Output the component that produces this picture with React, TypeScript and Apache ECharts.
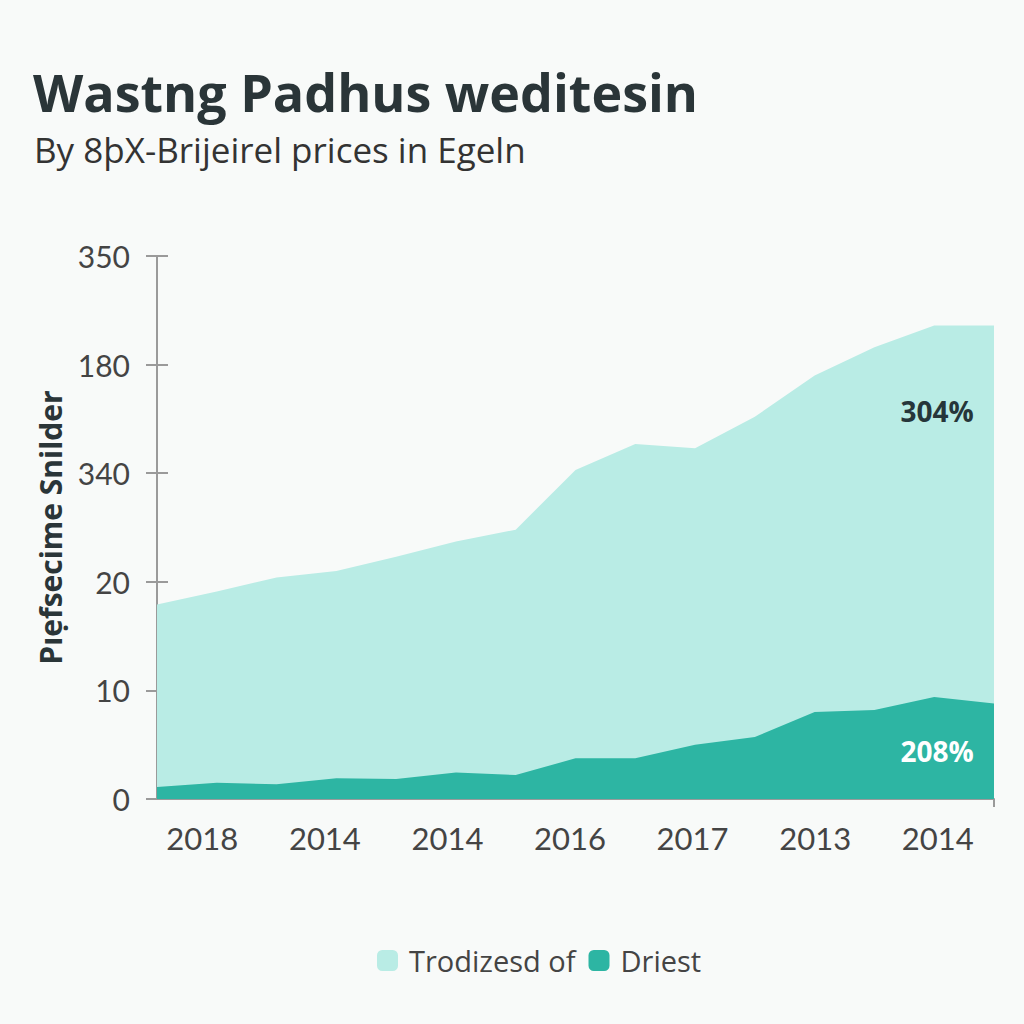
import React, { useEffect, useRef } from "react";
import * as echarts from "echarts";

const title = "Wastng Padhus weditesin";
const subtitle = "By 8þX-Brijeirel prices in Egeln";
const yAxisName = "Pıẹfsecime Snilder";
const yTickLabels = ["0", "10", "20", "340", "180", "350"];
const xTickLabels = ["2018", "2014", "2014", "2016", "2017", "2013", "2014"];
const points = ["p0", "p1", "p2", "p3", "p4", "p5", "p6", "p7", "p8", "p9", "p10", "p11", "p12", "p13", "p14"];
const lightName = "Trodizesd of";
const darkName = "Driest";
const lightValues = [17.9, 19.1, 20.4, 21.0, 22.3, 23.7, 24.8, 30.3, 32.7, 32.3, 35.2, 39.0, 41.6, 43.6, 43.6];
const darkValues = [1.1, 1.5, 1.35, 1.9, 1.85, 2.45, 2.2, 3.75, 3.75, 5.0, 5.7, 8.0, 8.2, 9.4, 8.8];
const annotations = [
  { text: "304%", index: 13, value: 35.7, color: "#26363a" },
  { text: "208%", index: 13, value: 4.4, color: "#ffffff" },
];

export default function App() {
  const ref = useRef<HTMLDivElement>(null);
  useEffect(() => {
    const chart = echarts.init(ref.current!, null, { renderer: "svg" });
    const font = "'Open Sans', 'Noto Sans', sans-serif";
    const axisFont = "Lato, 'Open Sans', sans-serif";
    chart.setOption({
      animation: false,
      backgroundColor: "#f8faf9",
      textStyle: { fontFamily: font },
      title: [
        {
          text: title,
          left: 28,
          top: 60,
          textStyle: { fontSize: 52, fontWeight: "bold", color: "#2a3538", fontFamily: font },
        },
        {
          text: subtitle,
          left: 29,
          top: 127,
          textStyle: { fontSize: 35, fontWeight: "normal", color: "#333", fontFamily: font },
        },
      ],
      legend: {
        bottom: 44,
        left: 372,
        itemWidth: 21,
        itemHeight: 21,
        itemGap: 13,
        icon: "roundRect",
        textStyle: { fontSize: 29, color: "#444", fontFamily: font, padding: [0, 0, 0, 6] },
        data: [lightName, darkName],
      },
      grid: [
        { left: 157, right: 30, top: 256, bottom: 225 },
        { left: 141, right: 25, top: 256, bottom: 225 },
      ],
      xAxis: [
        {
          type: "category",
          gridIndex: 0,
          data: points,
          boundaryGap: false,
          axisLine: { lineStyle: { color: "#9a9a9a", width: 2 } },
          axisTick: {
            length: 8,
            lineStyle: { color: "#9a9a9a", width: 2 },
            interval: (i: number) => i === points.length - 1,
          },
          axisLabel: { show: false },
        },
        {
          type: "category",
          gridIndex: 1,
          data: xTickLabels.map((_, i) => "t" + i),
          boundaryGap: true,
          axisLine: { show: false },
          axisTick: { show: false },
          axisLabel: {
            interval: 0,
            margin: 23,
            fontSize: 31,
            color: "#444",
            fontFamily: axisFont,
            formatter: (_v: string, i: number) => xTickLabels[i] ?? "",
          },
        },
      ],
      yAxis: [
        {
          type: "value",
          gridIndex: 0,
          min: 0,
          max: 50,
          interval: 10,
          name: yAxisName,
          nameLocation: "middle",
          nameGap: 92,
          nameRotate: 90,
          nameTextStyle: { fontSize: 30, fontWeight: "bold", color: "#2a3538", fontFamily: font },
          axisLine: { show: true, lineStyle: { color: "#9a9a9a", width: 2 } },
          axisTick: { show: true, length: 11, lineStyle: { color: "#9a9a9a", width: 2 } },
          splitLine: { show: false },
          axisLabel: {
            margin: 27,
            fontSize: 30,
            color: "#444",
            fontFamily: axisFont,
            formatter: (v: number) => yTickLabels[Math.round(v / 10)] ?? "",
          },
        },
        {
          type: "value",
          gridIndex: 0,
          min: 0,
          max: 50,
          interval: 10,
          position: "left",
          axisLine: { show: false },
          axisTick: { show: true, inside: true, length: 11, lineStyle: { color: "#9a9a9a", width: 2 } },
          splitLine: { show: false },
          axisLabel: { show: false },
        },
        {
          type: "value",
          gridIndex: 1,
          show: false,
        },
      ],
      series: [
        {
          name: lightName,
          type: "line",
          data: lightValues,
          symbol: "none",
          lineStyle: { width: 0 },
          itemStyle: { color: "#b9ece5" },
          areaStyle: { color: "#b9ece5", opacity: 1 },
          z: 1,
        },
        {
          name: darkName,
          type: "line",
          data: darkValues,
          symbol: "none",
          lineStyle: { width: 0 },
          itemStyle: { color: "#2db5a3" },
          areaStyle: { color: "#2db5a3", opacity: 1 },
          z: 2,
          markPoint: {
            symbol: "circle",
            symbolSize: 2,
            itemStyle: { color: "transparent" },
            data: annotations.map((a) => ({
              coord: [a.index, a.value],
              itemStyle: { color: "transparent" },
              label: {
                show: true,
                position: "inside",
                offset: [3, 0],
                formatter: a.text,
                fontSize: 28,
                fontWeight: "bold",
                color: a.color,
                fontFamily: font,
              },
            })),
          },
        },
      ],
    });
    return () => chart.dispose();
  }, []);
  return <div ref={ref} style={{ position: "fixed", left: 0, top: 0, width: 1024, height: 1024 }} />;
}
